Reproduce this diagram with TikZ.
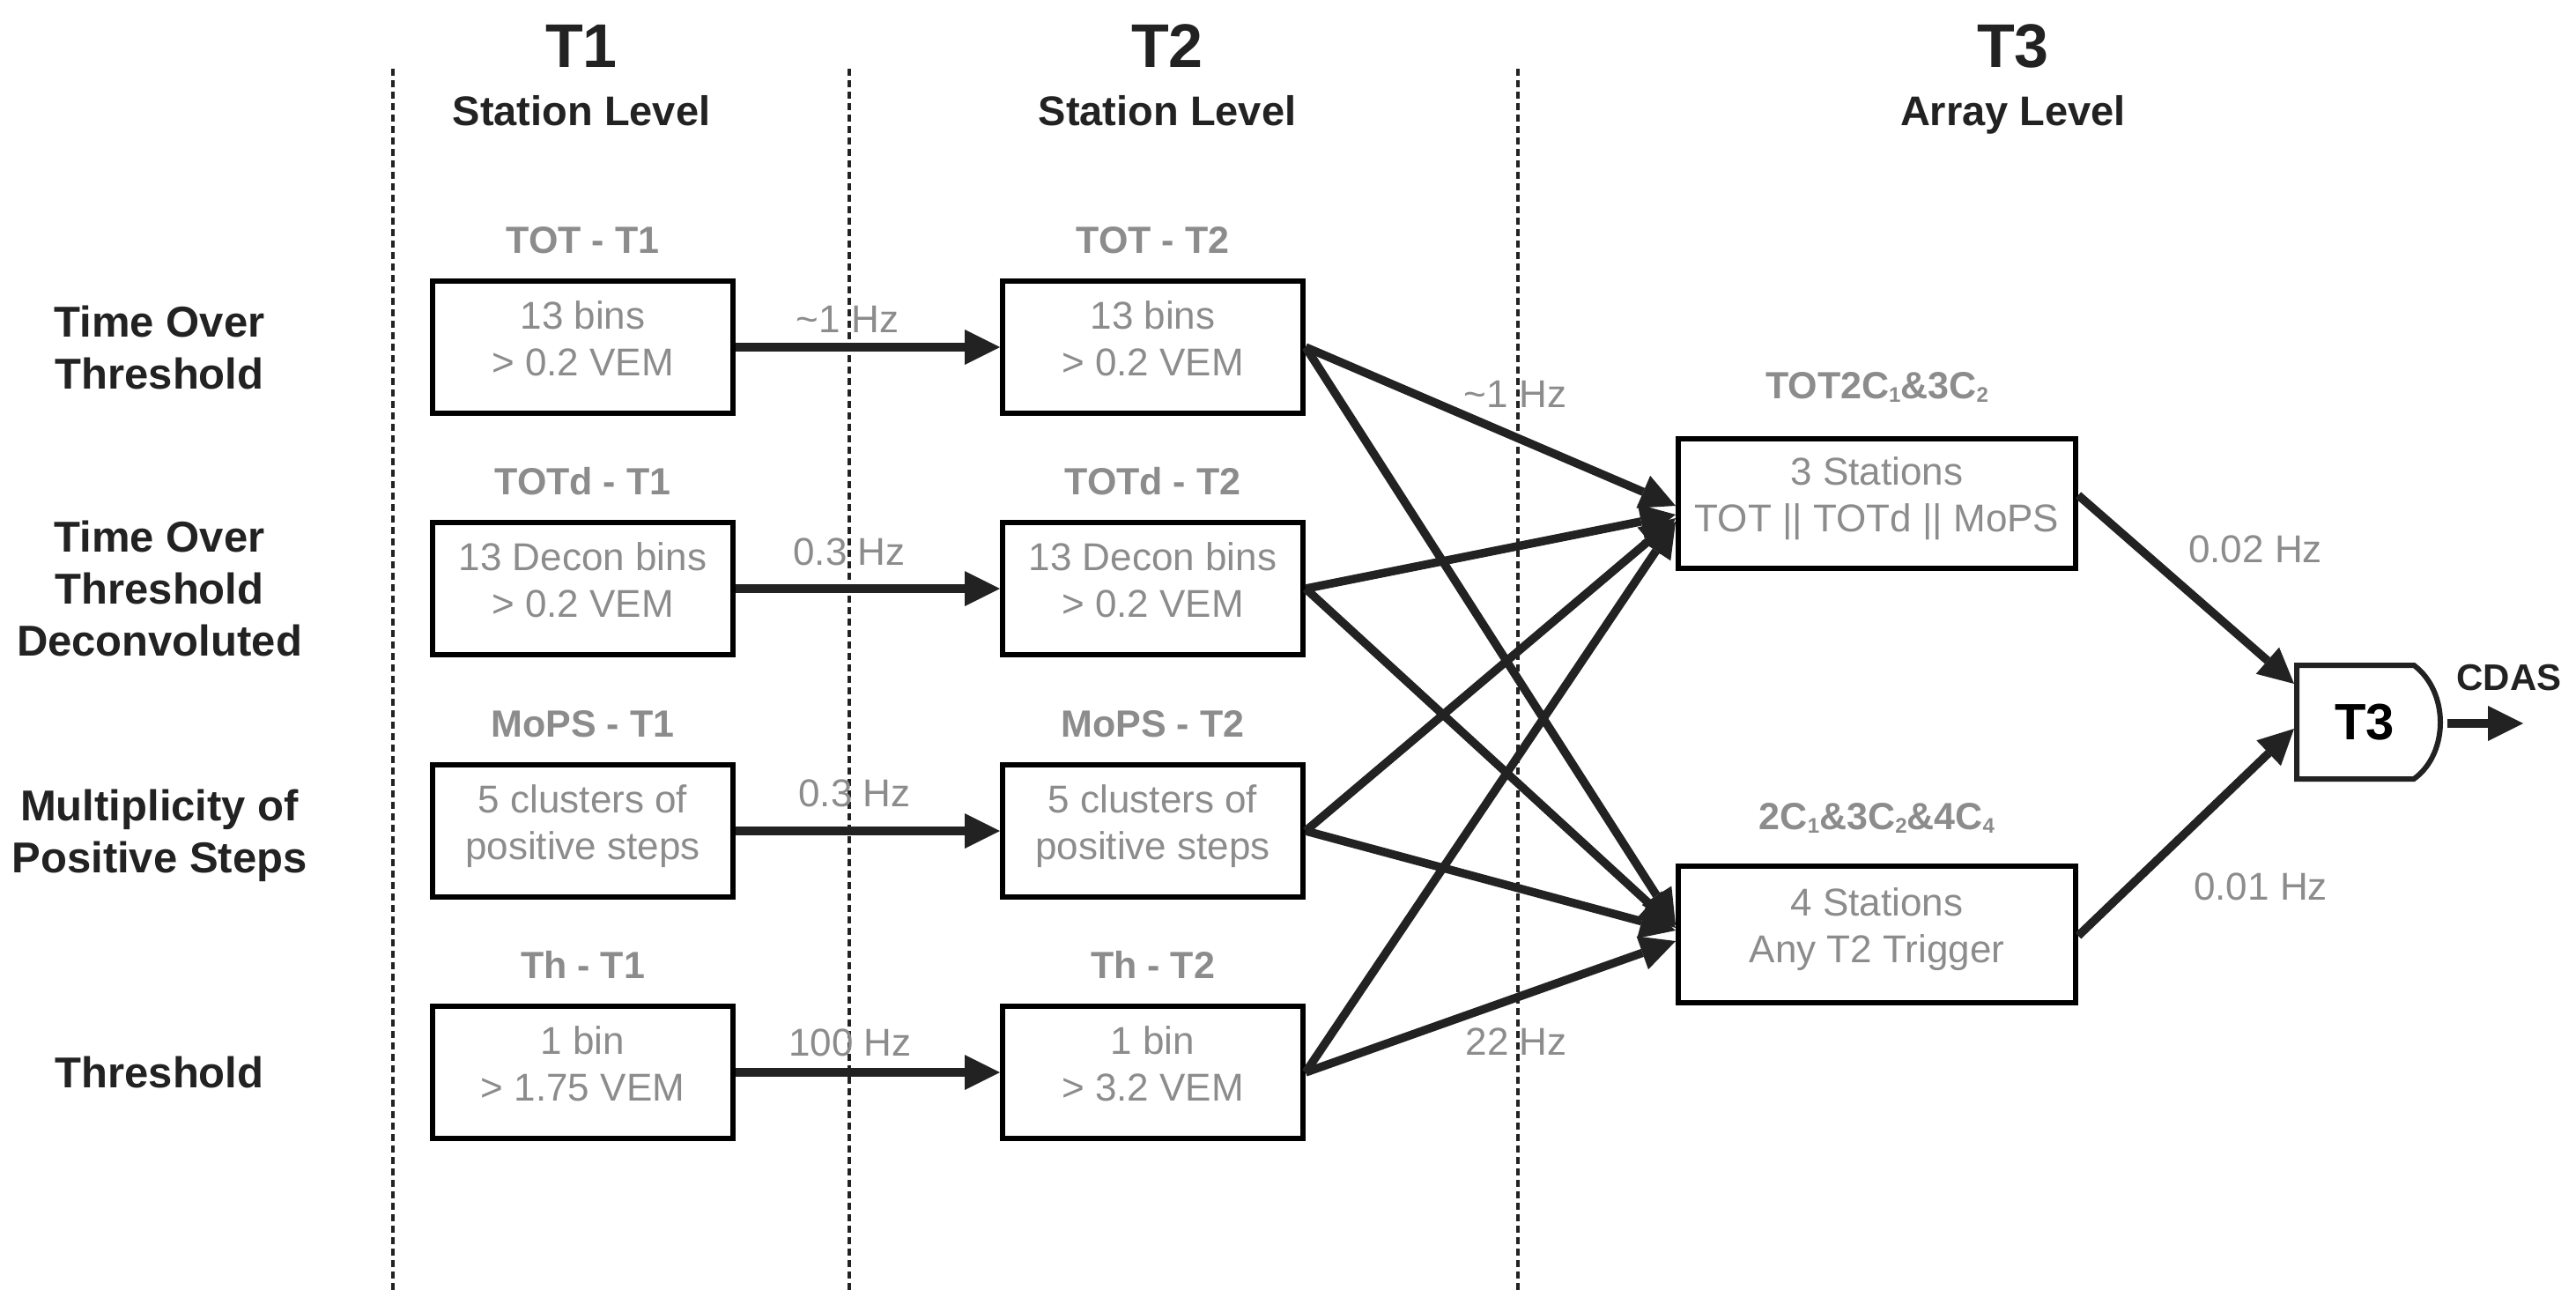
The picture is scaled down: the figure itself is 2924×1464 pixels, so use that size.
\documentclass[tikz,border=0pt]{standalone}
\usepackage{fontspec}
\setmainfont{Liberation Sans}
\usetikzlibrary{arrows.meta}
\definecolor{ink}{HTML}{222222}
\definecolor{soft}{HTML}{8C8C8C}
\newcommand\twol[2]{\rule{0pt}{36pt}#1\\#2\rule[-25pt]{0pt}{25pt}}
\newcommand\rs{\rule[-14pt]{0pt}{56pt}}
\newcommand\dnsub[1]{\raisebox{-4pt}{\fontsize{24}{24}\selectfont #1}}
\begin{document}
\begin{tikzpicture}[x=1pt,y=-1pt,
 every node/.style={inner sep=0pt,outer sep=0pt},
 hdrbig/.style={anchor=base,text=ink,font=\fontsize{70}{70}\selectfont\bfseries},
 hdrsmall/.style={anchor=base,text=ink,font=\fontsize{47}{47}\selectfont\bfseries},
 rowlab/.style={align=center,text=ink,font=\fontsize{49}{59}\selectfont\bfseries},
 ttl/.style={anchor=base,text=soft,font=\fontsize{43}{43}\selectfont\bfseries},
 boxc/.style={draw=black,line width=6pt,outer sep=3pt,minimum width=341pt,minimum height=150pt,align=center,text=soft,font=\fontsize{44}{53}\selectfont},
 rate/.style={anchor=base,text=soft,font=\fontsize{44}{44}\selectfont},
 arr/.style={draw=ink,line width=9.5pt,-{Triangle[length=40pt,width=40pt,line width=0pt]}},
 sepline/.style={draw=ink,line width=4pt,dash pattern=on 8pt off 5pt},
 gateline/.style={draw=ink,line width=6pt,line join=miter}
]
\fill[white] (0,0) rectangle (2924,1464);
\useasboundingbox (0,0) rectangle (2924,1464);

% column separators
\draw[sepline] (446,78) -- (446,1464);
\draw[sepline] (964,78) -- (964,1464);
\draw[sepline] (1723,78) -- (1723,1464);

% headers
\node[hdrbig] (h1) at (660,77) {T1};
\node[hdrsmall] (s1) at (660,142) {Station Level};
\node[hdrbig] (h2) at (1325,77) {T2};
\node[hdrsmall] (s2) at (1325,142) {Station Level};
\node[hdrbig] (h3) at (2285,77) {T3};
\node[hdrsmall] (s3) at (2285,142) {Array Level};

% row labels
\node[rowlab] (r1) at (181,397.5) {\rs Time Over\\\rs Threshold};
\node[rowlab] (r2) at (181,671.5) {\rs Time Over\\\rs Threshold\\\rs Deconvoluted};
\node[rowlab] (r3) at (181,946.5) {\rs Multiplicity of\\\rs Positive Steps};
\node[rowlab] (r4) at (181,1220.5) {\rs Threshold};

% T1 boxes
\node[ttl] (ta1) at (661.5,287) {TOT - T1};
\node[boxc] (a1) at (661.5,394) {\twol{13 bins}{> 0.2 VEM}};
\node[ttl] (tb1) at (661.5,561) {TOTd - T1};
\node[boxc] (b1) at (661.5,668) {\twol{13 Decon bins}{> 0.2 VEM}};
\node[ttl] (tc1) at (661.5,836) {MoPS - T1};
\node[boxc] (c1) at (661.5,943) {\twol{5 clusters of}{positive steps}};
\node[ttl] (td1) at (661.5,1110) {Th - T1};
\node[boxc] (d1) at (661.5,1217) {\twol{1 bin}{> 1.75 VEM}};

% T2 boxes
\node[ttl] (ta2) at (1308.5,287) {TOT - T2};
\node[boxc] (a2) at (1308.5,394) {\twol{13 bins}{> 0.2 VEM}};
\node[ttl] (tb2) at (1308.5,561) {TOTd - T2};
\node[boxc] (b2) at (1308.5,668) {\twol{13 Decon bins}{> 0.2 VEM}};
\node[ttl] (tc2) at (1308.5,836) {MoPS - T2};
\node[boxc] (c2) at (1308.5,943) {\twol{5 clusters of}{positive steps}};
\node[ttl] (td2) at (1308.5,1110) {Th - T2};
\node[boxc] (d2) at (1308.5,1217) {\twol{1 bin}{> 3.2 VEM}};

% T3 boxes
\node[ttl] (tu0) at (2130.5,452) {TOT2C\dnsub{1}\&3C\dnsub{2}};
\node[boxc,minimum width=451pt,minimum height=147pt] (tu) at (2130.5,571.5) {\twol{3 Stations}{TOT || TOTd || MoPS}};
\node[ttl] (tl0) at (2130.5,941) {2C\dnsub{1}\&3C\dnsub{2}\&4C\dnsub{4}};
\node[boxc,minimum width=451pt,minimum height=155pt] (tl) at (2130.5,1060.5) {\twol{4 Stations}{Any T2 Trigger}};

% T3 gate
\draw[gateline] (2607,755) -- (2740,755) .. controls (2780,785) and (2780,855) .. (2740,884) -- (2607,884) -- cycle;
\node[anchor=base,text=black,font=\fontsize{58}{58}\selectfont\bfseries] (gate) at (2684,839) {T3};
\node[anchor=base,text=ink,font=\fontsize{42}{42}\selectfont\bfseries] (cdas) at (2848,783) {CDAS};
\coordinate (gA) at (2604,776);
\coordinate (gB) at (2604,827);
\coordinate (gC) at (2778,821);
\coordinate (gD) at (2864,821);

% T1 -> T2
\draw[arr] (a1.east) -- (a2.west);
\draw[arr] (b1.east) -- (b2.west);
\draw[arr] (c1.east) -- (c2.west);
\draw[arr] (d1.east) -- (d2.west);
\node[rate] (ra) at (962,377) {\textasciitilde 1 Hz};
\node[rate] (rb) at (964,641) {0.3 Hz};
\node[rate] (rc) at (970,915) {0.3 Hz};
\node[rate] (rd) at (965,1198) {100 Hz};

% T2 -> T3
\draw[arr] (a2.east) -- ([yshift=-2.5pt]tu.west);
\draw[arr] (b2.east) -- ([yshift=-12.5pt]tu.west);
\draw[arr] (c2.east) -- ([yshift=-16.5pt]tu.west);
\draw[arr] (d2.east) -- ([yshift=-20.5pt]tu.west);
\draw[arr] (a2.east) -- ([yshift=10.5pt]tl.west);
\draw[arr] (b2.east) -- ([yshift=7.5pt]tl.west);
\draw[arr] (c2.east) -- ([yshift=4.5pt]tl.west);
\draw[arr] (d2.east) -- ([yshift=-7.5pt]tl.west);
\node[rate] (re) at (1720,462) {\textasciitilde 1 Hz};
\node[rate] (rf) at (1721,1197) {22 Hz};

% T3 -> gate -> CDAS
\draw[arr] ([yshift=9.5pt]tu.east) -- (gA);
\draw[arr] ([yshift=-1.5pt]tl.east) -- (gB);
\draw[arr] (gC) -- (gD);
\node[rate] (rg) at (2560,638) {0.02 Hz};
\node[rate] (rh) at (2566,1021) {0.01 Hz};
\end{tikzpicture}
\end{document}
